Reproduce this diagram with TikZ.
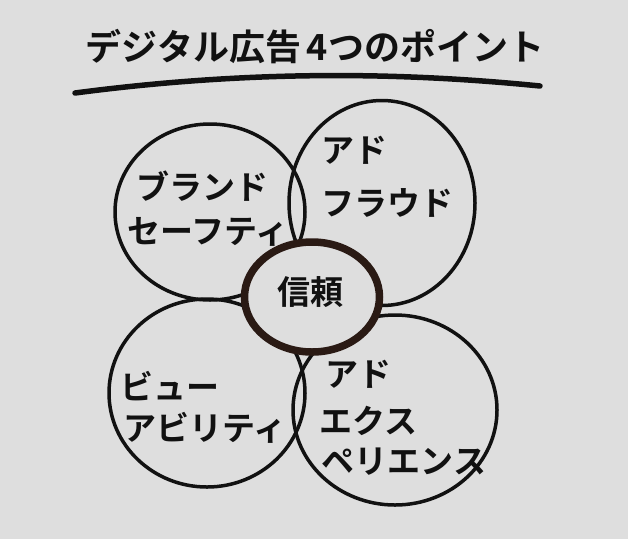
\documentclass[tikz,border=0pt]{standalone}
\usepackage{fontspec}
\newfontfamily\jp{Noto Sans CJK JP}[BoldFont={Noto Sans CJK JP Bold}]
\usetikzlibrary{shapes.geometric}
\definecolor{paper}{HTML}{DEDEDE}
\definecolor{ink}{HTML}{111111}
\definecolor{ring}{HTML}{2A1A14}
\tikzset{
  petal/.style={draw=ink, ellipse, line width=3.5pt, inner sep=0pt},
  word/.style={font=\jp\bfseries\fontsize{33}{33}\selectfont, text=ink, inner sep=0pt},
}
\begin{document}
\begin{tikzpicture}[x=1pt,y=-1pt]
% paper
\fill[paper] (0,0) rectangle (628,539);
\useasboundingbox (0,0) rectangle (628,539);
% title
\node[word, font=\jp\bfseries\fontsize{36}{36}\selectfont] (title) at (315,47) {デジタル広告\,4つのポイント};
\draw[ink, line width=5.5pt, line cap=round] (75,93) .. controls (250,70) and (400,72) .. (540,86);
% the four petals
\node[petal, minimum width=190, minimum height=176] (bs) at (210,212) {};
\node[petal, minimum width=186, minimum height=205] (af) at (382,203) {};
\node[petal, minimum width=196, minimum height=188] (va) at (207,393) {};
\node[petal, minimum width=204, minimum height=190] (ae) at (395,410) {};
% centre
\node[ellipse, draw=ring, fill=paper, line width=7.5pt, minimum width=135, minimum height=110] (trust) at (312,297) {};
\node[word] (shinrai) at (310,292) {信頼};
% petal labels
\node[word] (bs1) at (202,186) {ブランド};
\node[word] (bs2) at (208,232) {セーフティ};
\node[word] (af1) at (354,150) {アド};
\node[word] (af2) at (387,203) {フラウド};
\node[word] (va1) at (170,386) {ビュー};
\node[word] (va2) at (205,428) {アビリティ};
\node[word] (ae1) at (358,374) {アド};
\node[word] (ae2) at (368,421) {エクス};
\node[word] (ae3) at (404,462) {ペリエンス};
\end{tikzpicture}
\end{document}
